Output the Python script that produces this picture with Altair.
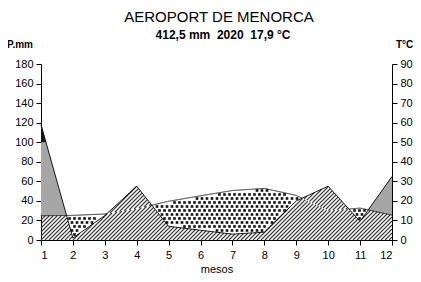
import altair as alt
import numpy as np
import pandas as pd

# ---- data ----
months = [1, 2, 3, 4, 5, 6, 7, 8, 9, 10, 11, 12]
precip = [118, 2, 25, 55, 14, 10, 6, 8, 40, 55, 19, 65]          # mm
temp = [12.4, 12.6, 13.3, 16.0, 19.8, 22.6, 25.3, 26.4, 22.8, 15.0, 16.3, 12.7]  # degC
p_ticks = list(range(0, 181, 20))
t_ticks = list(range(0, 91, 10))
title_text = "AEROPORT DE MENORCA"
subtitle_text = "412,5 mm\u00a0\u00a02020\u00a0\u00a017,9 \u00b0C"
p_label = "P.mm"
t_label = "T\u00b0C"
x_title = "mesos"

# ---- geometry ----
W, H = 351, 176
P_MAX = 180
sx = W / (months[-1] - months[0])
sy = H / P_MAX
FONT = "Liberation Sans"

m = np.array(months, float)
p = np.array(precip, float)
t2 = 2 * np.array(temp, float)

xs = np.linspace(months[0], months[-1], 2201)
pv = np.interp(xs, m, p)
tv = np.interp(xs, m, t2)
seg = np.clip(np.floor(xs - months[0]).astype(int), 0, len(months) - 2)
seg_max = np.maximum(p[:-1], p[1:])
grey = (seg_max[seg] >= 60) & (pv > tv)
hatch_top = np.where(grey, tv, pv)

dense = pd.DataFrame({
    "month": xs,
    "grey_lo": tv,
    "grey_hi": np.where(grey, np.minimum(pv, 100), tv),
    "blk_lo": np.full_like(xs, 100.0),
    "blk_hi": np.maximum(pv, 100),
})

# hatch lines (45 deg in pixel space)
period = 4.0
Xf = np.arange(0, W + 0.001, 0.25)
Xd = (xs - months[0]) * sx
top_px = np.interp(Xf, Xd, hatch_top * sy)
t_px = np.interp(Xf, Xd, tv * sy)


def hatch(lo, hi, phase):
    rows = []
    for c in np.arange(-H - period + phase, W + period, period):
        Y = Xf - c
        inside = (Y >= lo) & (Y <= hi) & (Y >= 0) & (Y <= H)
        idx = np.flatnonzero(inside)
        if idx.size < 2:
            continue
        br = np.flatnonzero(np.diff(idx) > 1)
        starts = np.r_[idx[0], idx[br + 1]]
        ends = np.r_[idx[br], idx[-1]]
        for a, b in zip(starts, ends):
            if b - a < 1:
                continue
            rows.append({
                "month": months[0] + Xf[a] / sx, "y0": (Xf[a] - c) / sy,
                "x1": months[0] + Xf[b] / sx, "y1": (Xf[b] - c) / sy,
            })
    return rows


low_part = np.minimum(top_px, t_px)
hrows = hatch(np.zeros_like(Xf), low_part, 0.0)
hrows += hatch(low_part, top_px, period / 2)
hatch_df = pd.DataFrame(hrows)

# dots for the arid part
p_px = np.interp(Xf, Xd, pv * sy)
dots = []
dx, dy = 5.0, 4.0
for j, Yr in enumerate(np.arange(1.5, H, dy)):
    off = (j % 2) * dx / 2
    for Xc in np.arange(off + 1.0, W, dx):
        pp = np.interp(Xc, Xf, p_px)
        tt = np.interp(Xc, Xf, t_px)
        if pp + 1.4 < Yr < tt - 1.4:
            dots.append({"month": months[0] + Xc / sx, "mm": Yr / sy})
dots_df = pd.DataFrame(dots)

# temperature line pieces that are visible
vis = (tv >= pv) | grey
runid = np.cumsum(np.r_[1, (vis[1:] & ~vis[:-1]).astype(int)])
tline_df = pd.DataFrame({"month": xs, "temp": tv / 2, "seg": runid})[vis]

xscale = alt.Scale(domain=[months[0], months[-1]], nice=False, zero=False)
yscale = alt.Scale(domain=[0, P_MAX], nice=False)

xaxis = alt.Axis(values=months, title=x_title, grid=False, tickSize=5,
                 labelFontSize=11, titleFontSize=11, titleFontWeight="normal",
                 labelPadding=4, titlePadding=3, orient="bottom")
yaxis = alt.Axis(values=p_ticks, title="", grid=False, tickSize=5,
                 labelFontSize=11, labelPadding=3, orient="left")


def X(field="month"):
    return alt.X(f"{field}:Q", scale=xscale, axis=xaxis, title=x_title)


grey_layer = alt.Chart(dense).mark_area(color="#a6a6a6").encode(
    x=X(),
    y=alt.Y("grey_lo:Q", scale=yscale, axis=yaxis),
    y2="grey_hi:Q",
)
blk_layer = alt.Chart(dense).mark_area(color="#151515").encode(
    x=X(),
    y=alt.Y("blk_lo:Q", scale=yscale, axis=None),
    y2="blk_hi:Q",
)
hatch_layer = alt.Chart(hatch_df).mark_rule(color="#3a3a3a", strokeWidth=1.1).encode(
    x=X(),
    y=alt.Y("y0:Q", scale=yscale, axis=None),
    x2="x1:Q", y2="y1:Q",
)
dot_layer = alt.Chart(dots_df).mark_square(size=7, color="#141414", opacity=1).encode(
    x=X(),
    y=alt.Y("mm:Q", scale=yscale, axis=None),
)
pline = alt.Chart(pd.DataFrame({"month": months, "precip": precip})).mark_line(
    color="black", strokeWidth=0.9).encode(
    x=X(),
    y=alt.Y("precip:Q", scale=yscale, axis=None),
)


def label(txt, xpx, ypx, size, weight, align):
    return alt.Chart(pd.DataFrame({"t": [txt]})).mark_text(
        font=FONT, fontSize=size, fontWeight=weight, align=align,
        baseline="alphabetic", color="black").encode(
        text="t:N", x=alt.value(xpx), y=alt.value(ypx))


texts = [
    label(title_text, 178, -42, 15, "normal", "center"),
    label(subtitle_text, 182, -25.5, 12, "bold", "center"),
    label(p_label, -34, -16.5, 10, "bold", "left"),
    label(t_label, 355, -16.5, 10, "bold", "left"),
]

tline = alt.Chart(tline_df).mark_line(color="black", strokeWidth=0.9).encode(
    x=X(),
    y=alt.Y("temp:Q", scale=alt.Scale(domain=[0, 90], nice=False),
            axis=alt.Axis(orient="right", values=t_ticks, title="", grid=False,
                          tickSize=5, labelFontSize=11, labelPadding=3)),
    detail="seg:N",
)

chart = alt.layer(grey_layer, blk_layer, hatch_layer, dot_layer, pline, tline, *texts
                  ).resolve_scale(y="independent").properties(
    width=W, height=H,
    autosize=alt.AutoSizeParams(type="none"),
    padding={"left": 33, "top": 56, "right": 21, "bottom": 34},
).configure_view(stroke=None).configure_axis(
    labelFont=FONT, titleFont=FONT, labelColor="black", titleColor="black",
    domainColor="black", tickColor="black", domainWidth=1, tickWidth=1,
)

chart.save("out.html", embed_options={"renderer": "svg", "actions": False})
